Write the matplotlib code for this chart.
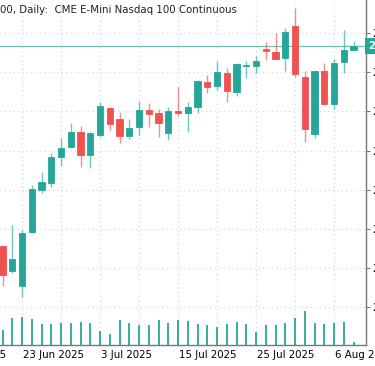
import numpy as np
import matplotlib
matplotlib.use("Agg")
import matplotlib.pyplot as plt
import matplotlib.transforms as mtrans

# daily bars, CME E-Mini Nasdaq 100 continuous
dates = ["2025-06-19", "2025-06-20", "2025-06-23", "2025-06-24", "2025-06-25",
         "2025-06-26", "2025-06-27", "2025-06-30", "2025-07-01", "2025-07-02",
         "2025-07-03", "2025-07-04", "2025-07-07", "2025-07-08", "2025-07-09",
         "2025-07-10", "2025-07-11", "2025-07-14", "2025-07-15", "2025-07-16",
         "2025-07-17", "2025-07-18", "2025-07-21", "2025-07-22", "2025-07-23",
         "2025-07-24", "2025-07-25", "2025-07-28", "2025-07-29", "2025-07-30",
         "2025-07-31", "2025-08-01", "2025-08-04", "2025-08-05", "2025-08-06",
         "2025-08-07", "2025-08-08"]
opens = [22068, 21874, 21759, 22178, 22498, 22549, 22753, 22830, 22945, 22764,
         22920, 23125, 23042, 22914, 22979, 23112, 23086, 22933, 23104, 23091,
         23132, 23324, 23298, 23398, 23252, 23451, 23449, 23580, 23559, 23508,
         23756, 23365, 22925, 23413, 23155, 23478, 23572]
highs = [22075, 22229, 22191, 22536, 22638, 22779, 22899, 23009, 22991, 22940,
         23171, 23134, 23098, 23040, 23181, 23163, 23117, 23137, 23286, 23175,
         23342, 23380, 23487, 23431, 23474, 23487, 23526, 23636, 23700, 23738,
         23892, 23411, 23418, 23470, 23500, 23725, 23641]
lows = [21763, 21863, 21679, 22165, 22475, 22523, 22684, 22825, 22676, 22664,
        22902, 22958, 22861, 22887, 22920, 22979, 22907, 22881, 23065, 22943,
        23086, 23240, 23265, 23175, 23219, 23359, 23393, 23495, 23499, 23413,
        23367, 22868, 22894, 23150, 23117, 23393, 23570]
closes = [21848, 21971, 22168, 22503, 22557, 22753, 22818, 22945, 22766, 22933,
          23144, 23004, 22912, 22976, 23112, 23081, 23014, 23106, 23086, 23132,
          23332, 23286, 23405, 23260, 23464, 23455, 23490, 23562, 23505, 23708,
          23388, 22968, 23413, 23155, 23470, 23572, 23605]
volumes = [300, 534, 560, 520, 426, 426, 440, 440, 460, 440, 280, 220, 500, 446,
           406, 406, 500, 440, 506, 480, 426, 406, 366, 426, 466, 426, 266, 406,
           406, 440, 540, 680, 446, 426, 440, 460, 66]  # thousands

label_dates = ["2025-06-11", "2025-06-23", "2025-07-03", "2025-07-15",
               "2025-07-25", "2025-08-06"]
label_names = ["11 Jun 2025", "23 Jun 2025", "3 Jul 2025", "15 Jul 2025",
               "25 Jul 2025", "6 Aug 2025"]
price_ticks = [21600, 21900, 22200, 22500, 22800, 23100, 23400, 23700]

UP = "#26a69a"
DOWN = "#ef5350"
GRID = "#d8d8d8"
FS = 7.4

opens = np.array(opens); highs = np.array(highs)
lows = np.array(lows); closes = np.array(closes)
x = np.busday_count("2025-06-23", dates)
xl = np.busday_count("2025-06-23", label_dates)
up = closes >= opens
cols = np.where(up, UP, DOWN)

fig = plt.figure(figsize=(3.75, 3.66), dpi=100)
ax = fig.add_axes([0, 21 / 366, 366 / 375, 345 / 366])

# grid
ax.set_xticks(xl)
ax.set_xticks((xl[:-1] + xl[1:]) / 2, minor=True)
ax.set_yticks(price_ticks)
ax.grid(True, which="both", color=GRID, linestyle=(0, (1, 2.5)), linewidth=0.9)
ax.set_axisbelow(True)

# volume on its own scale
vx = ax.twinx()
vx.vlines(x, 0, volumes, color=UP, linewidth=1.3)
vx.set_ylim(0, 6900)
vx.set_yticks([])
for s in vx.spines.values():
    s.set_visible(False)

# candles
ax.vlines(x, lows, highs, color=cols, linewidth=1.0, alpha=0.65, zorder=3)
ax.bar(x, np.abs(closes - opens), bottom=np.minimum(opens, closes), width=0.64,
       color=cols, edgecolor=cols, linewidth=0.6, zorder=4)

# last price line + tag
last = closes[-1]
ax.axhline(last, color="#6cc0b6", linewidth=0.9, zorder=2)
tr = mtrans.blended_transform_factory(ax.transAxes, ax.transData)
ax.text(1.006, last, f"{last:,.0f}", transform=tr, color="white", fontsize=FS,
        fontweight="bold", va="center", ha="left", clip_on=False, zorder=6,
        bbox=dict(facecolor=UP, edgecolor="none", pad=2.2))

ax.set_xlim(-2.26, 35.28)
ax.set_ylim(21308, 23955)

ax.yaxis.tick_right()
ax.set_yticklabels([f"{p:,}" for p in price_ticks])
ax.set_xticklabels([])
# date labels start at their tick (first one sits left of the view)
for pos, name in zip(xl, label_names):
    ax.annotate(name, xy=(pos, 0), xycoords=("data", "axes fraction"),
                xytext=(1, -7.3), textcoords="offset points", fontsize=FS,
                ha="left", va="center", annotation_clip=False)
ax.tick_params(axis="y", which="both", length=3, width=0.8, color="#777777",
               labelsize=FS, pad=1.5)
ax.tick_params(axis="x", which="both", length=0)
for s in ["left", "top"]:
    ax.spines[s].set_visible(False)
for s in ["right", "bottom"]:
    ax.spines[s].set_color("#777777")
    ax.spines[s].set_linewidth(1.0)

fig.text(0.0, 1 - 10 / 366, "00, Daily:  CME E-Mini Nasdaq 100 Continuous",
         fontsize=FS, va="center", ha="left", color="#222222")

fig.savefig("out.png", dpi=100)
